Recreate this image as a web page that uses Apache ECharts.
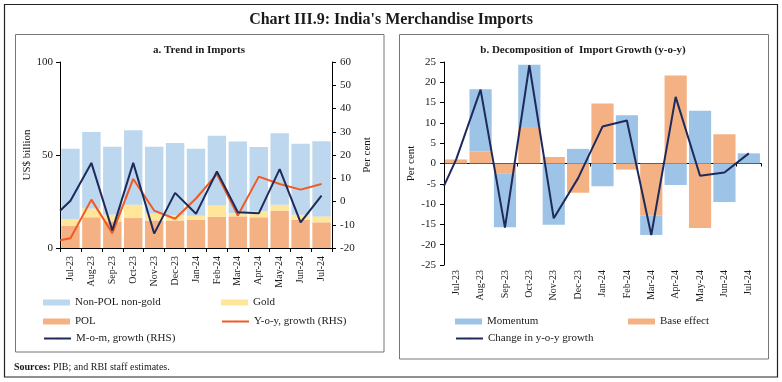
<!DOCTYPE html>
<html>
<head>
<meta charset="utf-8">
<script src="https://cdn.jsdelivr.net/npm/echarts@6/dist/echarts.min.js"></script>
<style>
html,body{margin:0;padding:0;background:#fff;}
#chart{width:782px;height:382px;}
</style>
</head>
<body>
<div id="chart"></div>
<script>
// ---------- data ----------
const categories = ['Jul-23','Aug-23','Sep-23','Oct-23','Nov-23','Dec-23','Jan-24','Feb-24','Mar-24','Apr-24','May-24','Jun-24','Jul-24'];

// Panel a: US$ billion
const polValues    = [12.0, 16.5, 14.3, 16.1, 14.8, 14.8, 15.2, 16.8, 17.0, 16.5, 20.1, 15.2, 13.8];
const goldValues   = [3.6, 4.8, 3.6, 7.2, 3.6, 2.7, 2.2, 6.1, 1.8, 3.2, 3.2, 2.7, 3.2];
const nonPolValues = [37.7, 41.0, 36.5, 40.0, 36.0, 38.9, 35.9, 37.4, 38.5, 34.6, 38.4, 38.1, 40.4];
// Panel a: per cent (RHS); the drawn line starts at the axis edge
const yoyStart = -16.7;
const yoyGrowth = [-15.8, 0.8, -13.6, 9.7, -3.9, -7.4, 1.3, 11.8, -6.0, 10.7, 7.5, 5.1, 7.5];
const momStart = -4.0;
const momGrowth = [0.3, 16.6, -12.4, 16.6, -13.8, 3.7, -5.3, 12.9, -4.6, -5.1, 13.9, -9.0, 2.5];

// Panel b: per cent
const momentum   = [0, 15.3, -13.3, 15.3, -15.1, 3.6, -5.6, 11.9, -4.8, -5.3, 13.0, -9.5, 2.5];
const baseEffect = [1.0, 3.0, -2.4, 9.0, 1.6, -7.2, 14.8, -1.5, -12.8, 21.7, -15.9, 7.2, 0];
const changeStart = -5.5;
const changeYoy  = [1.0, 18.2, -15.8, 24.2, -13.5, -3.6, 9.1, 10.6, -17.6, 16.4, -3.0, -2.2, 2.5];

const leftTicks = {min: 0, max: 100, interval: 50};
const rightTicks = {min: -20, max: 60, interval: 10};
const panelBTicks = {min: -25, max: 25, interval: 5};

// ---------- helpers ----------
const FONT = 'Liberation Serif';
const TXT = '#1a1a1a';
function lineData(start, vals) {
  return [[-0.5, start]].concat(vals.map((v, i) => [i, v]));
}
const C = {
  nonPol: '#BDD7EE', gold: '#FFE699', pol: '#F4B183',
  yoy: '#F05A24', mom: '#1F2A5C',
  momentum: '#9DC3E6', base: '#F4B183', change: '#1F2A5C'
};
const axisLineStyle = {show: true, onZero: false, lineStyle: {color: '#000', width: 1}};
const tickStyle = {show: true, length: 4, lineStyle: {color: '#000'}};
const lblStyle = (size, margin) => ({fontFamily: FONT, fontSize: size, color: TXT, margin: margin});

function legendItem(name, left, rowY, isLine) {
  return {
    data: [name], left: left, top: rowY - 5, padding: 0, itemGap: 0,
    itemWidth: 27, itemHeight: isLine ? 2 : 6, icon: isLine ? undefined : 'rect',
    textStyle: {fontFamily: FONT, fontSize: 11, color: TXT}, selectedMode: false
  };
}

const chart = echarts.init(document.getElementById('chart'), null, {renderer: 'canvas'});
const option = {
  backgroundColor: '#fff',
  animation: false,
  textStyle: {fontFamily: FONT},
  grid: [
    {left: 60, top: 62, width: 272, height: 186, outerBoundsMode: 'none'},
    {left: 444, top: 62, width: 317, height: 203, outerBoundsMode: 'none'}
  ],
  xAxis: [
    {type: 'category', gridIndex: 0, data: categories, position: 'bottom', boundaryGap: true,
     axisLine: axisLineStyle, axisTick: tickStyle,
     axisLabel: Object.assign({rotate: 90, interval: 0}, lblStyle(10, 8)), splitLine: {show: false}},
    {type: 'value', gridIndex: 0, min: -0.5, max: 12.5, show: false, splitLine: {show: false}},
    {type: 'category', gridIndex: 1, data: categories, position: 'bottom', boundaryGap: true,
     axisLine: {show: false, onZero: false}, axisTick: {show: false},
     axisLabel: Object.assign({rotate: 90, interval: 0}, lblStyle(10, 5)), splitLine: {show: false}},
    {type: 'category', gridIndex: 1, data: categories, position: 'bottom', boundaryGap: true,
     axisLine: {show: true, onZero: true, onZeroAxisIndex: 2, lineStyle: {color: '#000', width: 1}},
     axisTick: {show: true, length: 3, lineStyle: {color: '#000'}},
     axisLabel: {show: false}, splitLine: {show: false}},
    {type: 'value', gridIndex: 1, min: -0.5, max: 12.5, show: false, splitLine: {show: false}}
  ],
  yAxis: [
    {type: 'value', gridIndex: 0, position: 'left', min: leftTicks.min, max: leftTicks.max, interval: leftTicks.interval,
     axisLine: axisLineStyle, axisTick: tickStyle, splitLine: {show: false},
     axisLabel: lblStyle(11, 7),
     name: 'US$ billion', nameLocation: 'middle', nameRotate: 90, nameGap: 25,
     nameTextStyle: {fontFamily: FONT, fontSize: 11, color: TXT}},
    {type: 'value', gridIndex: 0, position: 'right', min: rightTicks.min, max: rightTicks.max, interval: rightTicks.interval,
     axisLine: axisLineStyle, axisTick: tickStyle, splitLine: {show: false},
     axisLabel: lblStyle(11, 8),
     name: 'Per cent', nameLocation: 'middle', nameRotate: 90, nameGap: 30,
     nameTextStyle: {fontFamily: FONT, fontSize: 11, color: TXT}},
    {type: 'value', gridIndex: 1, position: 'left', min: panelBTicks.min, max: panelBTicks.max, interval: panelBTicks.interval,
     axisLine: axisLineStyle, axisTick: tickStyle, splitLine: {show: false},
     axisLabel: lblStyle(11, 8),
     name: 'Per cent', nameLocation: 'middle', nameRotate: 90, nameGap: 27,
     nameTextStyle: {fontFamily: FONT, fontSize: 11, color: TXT}}
  ],
  legend: [
    legendItem('Non-POL non-gold', 43, 302, false),
    legendItem('POL', 43, 321, false),
    legendItem('M-o-m, growth (RHS)', 43, 338, true),
    legendItem('Gold', 221, 302, false),
    legendItem('Y-o-y, growth (RHS)', 221, 321, true),
    legendItem('Momentum', 455, 321, false),
    legendItem('Change in y-o-y growth', 455, 338, true),
    legendItem('Base effect', 628, 321, false)
  ],
  series: [
    {name: 'POL', type: 'bar', xAxisIndex: 0, yAxisIndex: 0, stack: 'imp', data: polValues,
     itemStyle: {color: C.pol}, barCategoryGap: '12%'},
    {name: 'Gold', type: 'bar', xAxisIndex: 0, yAxisIndex: 0, stack: 'imp', data: goldValues,
     itemStyle: {color: C.gold}, barCategoryGap: '12%'},
    {name: 'Non-POL non-gold', type: 'bar', xAxisIndex: 0, yAxisIndex: 0, stack: 'imp', data: nonPolValues,
     itemStyle: {color: C.nonPol}, barCategoryGap: '12%'},
    {name: 'Y-o-y, growth (RHS)', type: 'line', xAxisIndex: 1, yAxisIndex: 1, data: lineData(yoyStart, yoyGrowth),
     symbol: 'none', lineStyle: {color: C.yoy, width: 2}, itemStyle: {color: C.yoy}},
    {name: 'M-o-m, growth (RHS)', type: 'line', xAxisIndex: 1, yAxisIndex: 1, data: lineData(momStart, momGrowth),
     symbol: 'none', lineStyle: {color: C.mom, width: 2}, itemStyle: {color: C.mom}},
    {name: 'Base effect', type: 'bar', xAxisIndex: 2, yAxisIndex: 2, stack: 'dec', data: baseEffect,
     itemStyle: {color: C.base}, barCategoryGap: '9%'},
    {name: 'Momentum', type: 'bar', xAxisIndex: 2, yAxisIndex: 2, stack: 'dec', data: momentum,
     itemStyle: {color: C.momentum}, barCategoryGap: '9%'},
    {name: 'Change in y-o-y growth', type: 'line', xAxisIndex: 4, yAxisIndex: 2, data: lineData(changeStart, changeYoy),
     symbol: 'none', lineStyle: {color: C.change, width: 2}, itemStyle: {color: C.change}, z: 5}
  ],
  graphic: [
    {type: 'rect', shape: {x: 4.5, y: 4.5, width: 773, height: 372.5}, style: {fill: 'none', stroke: '#222', lineWidth: 1.2}, silent: true},
    {type: 'rect', shape: {x: 15.5, y: 34.5, width: 368.5, height: 317.5}, style: {fill: 'none', stroke: '#777', lineWidth: 1}, silent: true},
    {type: 'rect', shape: {x: 399.5, y: 34.5, width: 369, height: 324.5}, style: {fill: 'none', stroke: '#777', lineWidth: 1}, silent: true},
    {type: 'text', x: 391, y: 20, style: {text: "Chart III.9: India's Merchandise Imports", textAlign: 'center', textVerticalAlign: 'middle',
      font: 'bold 16px "Liberation Serif"', fill: TXT}, silent: true},
    {type: 'text', x: 199, y: 50, style: {text: 'a. Trend in Imports', textAlign: 'center', textVerticalAlign: 'middle',
      font: 'bold 11px "Liberation Serif"', fill: TXT}, silent: true},
    {type: 'text', x: 583, y: 50, style: {text: 'b. Decomposition of  Import Growth (y-o-y)', textAlign: 'center', textVerticalAlign: 'middle',
      font: 'bold 11px "Liberation Serif"', fill: TXT}, silent: true},
    {type: 'text', x: 14, y: 367, style: {text: '{b|Sources:} PIB; and RBI staff estimates.', textVerticalAlign: 'middle',
      font: '10px "Liberation Serif"', fill: TXT,
      rich: {b: {fontWeight: 'bold', fontFamily: FONT, fontSize: 10, fill: TXT}}}, silent: true}
  ]
};
chart.setOption(option);
</script>
</body>
</html>
